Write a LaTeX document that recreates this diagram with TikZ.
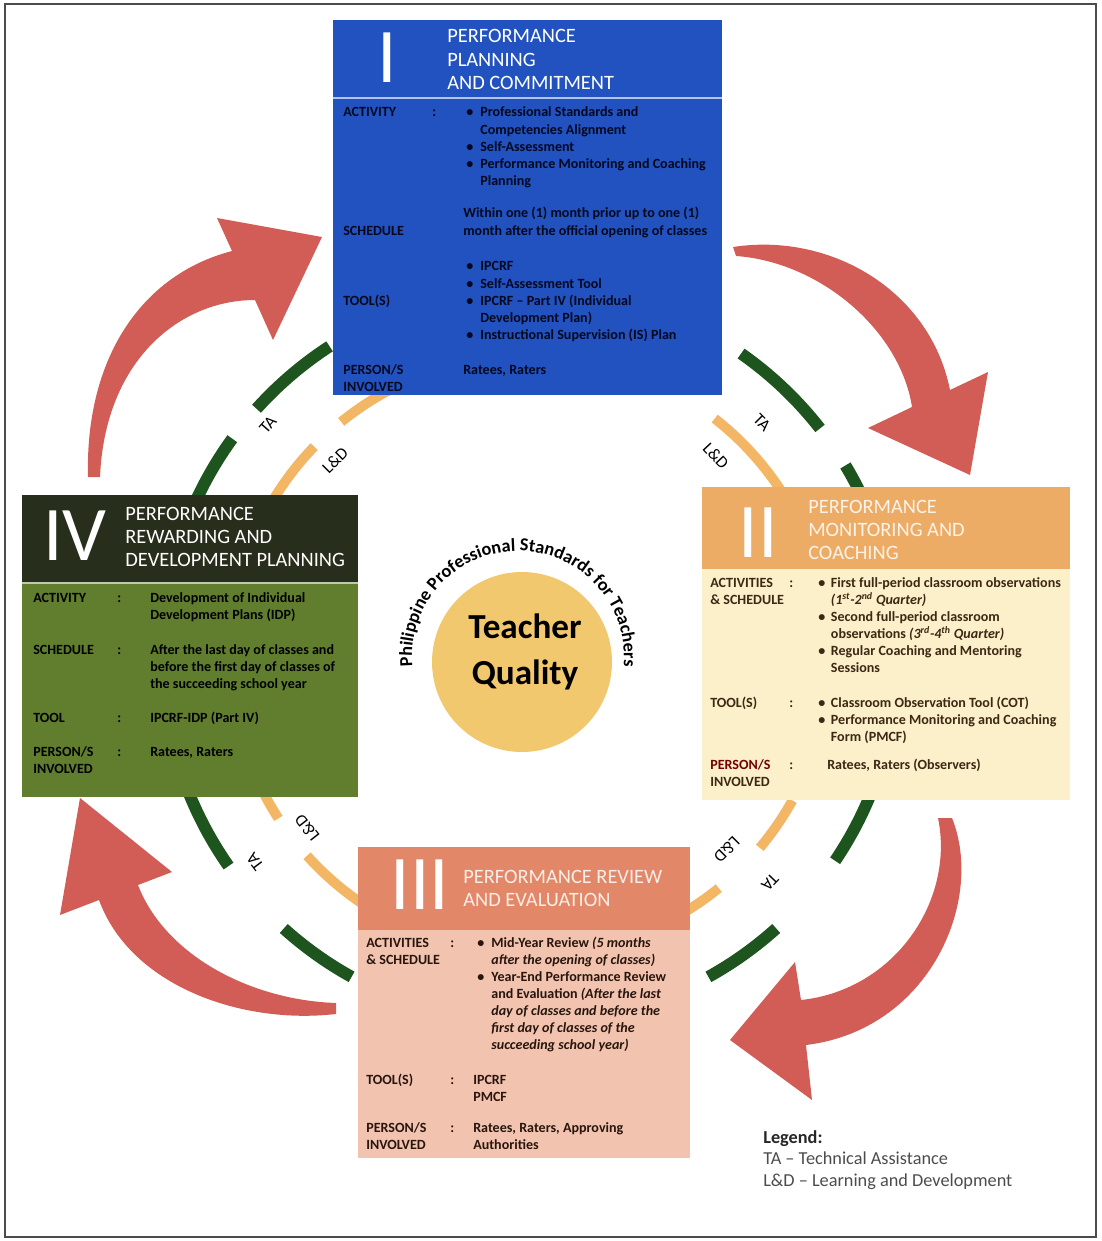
\documentclass[tikz,border=0pt]{standalone}
\usepackage{fontspec}
\setmainfont{Carlito}
\usetikzlibrary{decorations.text}

\definecolor{planblue}{RGB}{34,82,192}
\definecolor{planink}{RGB}{4,8,30}
\definecolor{monhead}{RGB}{236,172,102}
\definecolor{monbody}{RGB}{252,240,202}
\definecolor{monink}{RGB}{60,40,20}
\definecolor{revhead}{RGB}{226,136,104}
\definecolor{revbody}{RGB}{242,196,176}
\definecolor{revink}{RGB}{40,22,14}
\definecolor{rewhead}{RGB}{40,46,28}
\definecolor{rewbody}{RGB}{96,126,46}
\definecolor{arrowred}{RGB}{210,92,86}
\definecolor{tagreen}{RGB}{30,84,30}
\definecolor{ldorange}{RGB}{242,182,100}
\definecolor{coreyellow}{RGB}{242,200,110}

\tikzset{
  phasetitle/.style={anchor=base west, inner sep=0, text=white, font=\fontsize{14.5}{16.7}\selectfont},
  numeral/.style={anchor=base, inner sep=0, text=white, font=\fontsize{55}{55}\selectfont},
  fieldlbl/.style={anchor=base west, inner sep=0, font=\fontsize{10}{12.1}\selectfont\bfseries},
  ringlbl/.style={inner sep=0, font=\fontsize{12}{12}\selectfont},
  bigarrow/.style={fill=arrowred},
  taring/.style={draw=tagreen, line width=8.5pt},
  ldring/.style={draw=ldorange, line width=7pt}
}

\begin{document}
\begin{tikzpicture}[x=0.025cm, y=0.025cm]
  \useasboundingbox (0,0) rectangle (1101,-1241);
  \draw[black!70, line width=1pt] (5,-4) rectangle (1096,-1237);

  %%%%% rings %%%%%
  \foreach \a/\b in {123/138,144/166,55/38,31/14,194/215,228/241,346/326,312/299}
    \draw[taring] (530,-655) ++(\a:368) arc (\a:\b:368);
  \foreach \a/\b in {115/129,136/150,52/33,204/213,222/236,331/320,309/300}
    \draw[ldring] (530,-655) ++(\a:300) arc (\a:\b:300);

  %%%%% arrows %%%%%
  \fill[bigarrow] (88,-477) .. controls (85,-360) and (140,-275) .. (232,-251) -- (217,-218) -- (322,-237)
    -- (273,-340) -- (255,-300) .. controls (180,-300) and (105,-360) .. (100,-477) -- cycle;
  \fill[bigarrow] (733,-247) .. controls (830,-232) and (930,-290) .. (950,-390) -- (988,-372) -- (970,-475)
    -- (868,-428) -- (912,-407) .. controls (900,-330) and (820,-262) .. (736,-256) -- cycle;
  \fill[bigarrow] (952,-818) .. controls (985,-900) and (930,-1030) .. (806,-1045) -- (812,-1100) -- (730,-1040)
    -- (795,-962) -- (801,-1000) .. controls (895,-990) and (955,-900) .. (938,-818) -- cycle;
  \fill[bigarrow] (336,-1014) .. controls (240,-1025) and (130,-985) .. (99,-900) -- (60,-915) -- (80,-798)
    -- (172,-872) -- (138,-885) .. controls (165,-955) and (250,-1000) .. (336,-1003) -- cycle;

  %%%%% I %%%%%
  \fill[planblue] (333,-20) rectangle (722,-395);
  \draw[white!65!planblue, line width=1.5pt] (333,-98) -- (722,-98);
  \node[numeral] (n1) at (387,-83) {I};
  \node[phasetitle] (t1) at (447,-43) {\begin{tabular}[t]{@{}l@{}}PERFORMANCE\\PLANNING\\AND COMMITMENT\end{tabular}};
  \node[fieldlbl, text=planink] (p1act) at (343,-117) {ACTIVITY};
  \node[fieldlbl, text=planink] (p1actc) at (432,-117) {:};
  \node[fieldlbl, text=planink] (p1actx) at (466,-117) {\begin{tabular}[t]{@{}p{10pt}@{}l@{}}
    \textbullet & Professional Standards and\\ & Competencies Alignment\\
    \textbullet & Self-Assessment\\ \textbullet & Performance Monitoring and Coaching\\ & Planning\end{tabular}};
  \node[fieldlbl, text=planink] (p1sch) at (343,-236) {SCHEDULE};
  \node[fieldlbl, text=planink] (p1schx) at (463,-218) {\begin{tabular}[t]{@{}l@{}}
    Within one (1) month prior up to one (1)\\month after the official opening of classes\end{tabular}};
  \node[fieldlbl, text=planink] (p1tool) at (343,-305) {TOOL(S)};
  \node[fieldlbl, text=planink] (p1toolx) at (466,-271) {\begin{tabular}[t]{@{}p{10pt}@{}l@{}}
    \textbullet & IPCRF\\ \textbullet & Self-Assessment Tool\\ \textbullet & IPCRF -- Part IV (Individual\\
    & Development Plan)\\ \textbullet & Instructional Supervision (IS) Plan\end{tabular}};
  \node[fieldlbl, text=planink] (p1who) at (343,-374) {\begin{tabular}[t]{@{}l@{}}PERSON/S\\INVOLVED\end{tabular}};
  \node[fieldlbl, text=planink] (p1whox) at (463,-374) {Ratees, Raters};

  %%%%% II %%%%%
  \fill[monhead] (702,-487) rectangle (1070,-569);
  \fill[monbody] (702,-569) rectangle (1070,-800);
  \node[numeral] (n2) at (758,-557) {II};
  \node[phasetitle, text=white!85!monhead] (t2) at (808,-513) {\begin{tabular}[t]{@{}l@{}}PERFORMANCE\\MONITORING AND\\COACHING\end{tabular}};
  \node[fieldlbl, text=monink] (p2act) at (710,-587) {\begin{tabular}[t]{@{}l@{}}ACTIVITIES\\\& SCHEDULE\end{tabular}};
  \node[fieldlbl, text=monink] (p2actc) at (789,-587) {:};
  \node[fieldlbl, text=monink] (p2actx) at (818,-587) {\begin{tabular}[t]{@{}p{9pt}@{}l@{}}
    \textbullet & First full-period classroom observations\\ & \textit{(1\textsuperscript{st}-2\textsuperscript{nd} Quarter)}\\
    \textbullet & Second full-period classroom\\ & observations \textit{(3\textsuperscript{rd}-4\textsuperscript{th} Quarter)}\\
    \textbullet & Regular Coaching and Mentoring\\ & Sessions\end{tabular}};
  \node[fieldlbl, text=monink] (p2tool) at (710,-707) {TOOL(S)};
  \node[fieldlbl, text=monink] (p2toolc) at (789,-707) {:};
  \node[fieldlbl, text=monink] (p2toolx) at (818,-707) {\begin{tabular}[t]{@{}p{9pt}@{}l@{}}
    \textbullet & Classroom Observation Tool (COT)\\ \textbullet & Performance Monitoring and Coaching\\
    & Form (PMCF)\end{tabular}};
  \node[fieldlbl, text=monink] (p2who) at (710,-769) {\begin{tabular}[t]{@{}l@{}}\textcolor{red!45!black}{PERSON/S}\\INVOLVED\end{tabular}};
  \node[fieldlbl, text=monink] (p2whoc) at (789,-769) {:};
  \node[fieldlbl, text=monink] (p2whox) at (827,-769) {Ratees, Raters (Observers)};

  %%%%% III %%%%%
  \fill[revhead] (358,-847) rectangle (690,-930);
  \fill[revbody] (358,-930) rectangle (690,-1158);
  \node[numeral] (n3) at (420,-909) {III};
  \node[phasetitle, text=white!85!revhead] (t3) at (463,-883) {\begin{tabular}[t]{@{}l@{}}PERFORMANCE REVIEW\\AND EVALUATION\end{tabular}};
  \node[fieldlbl, text=revink] (p3act) at (366,-947) {\begin{tabular}[t]{@{}l@{}}ACTIVITIES\\\& SCHEDULE\end{tabular}};
  \node[fieldlbl, text=revink] (p3actc) at (450,-947) {:};
  \node[fieldlbl, text=revink] (p3actx) at (477,-947) {\begin{tabular}[t]{@{}p{10pt}@{}l@{}}
    \textbullet & Mid-Year Review \textit{(5 months}\\ & \textit{after the opening of classes)}\\
    \textbullet & Year-End Performance Review\\ & and Evaluation \textit{(After the last}\\
    & \textit{day of classes and before the}\\ & \textit{first day of classes of the}\\
    & \textit{succeeding school year)}\end{tabular}};
  \node[fieldlbl, text=revink] (p3tool) at (366,-1084) {TOOL(S)};
  \node[fieldlbl, text=revink] (p3toolc) at (450,-1084) {:};
  \node[fieldlbl, text=revink] (p3toolx) at (473,-1084) {\begin{tabular}[t]{@{}l@{}}IPCRF\\PMCF\end{tabular}};
  \node[fieldlbl, text=revink] (p3who) at (366,-1132) {\begin{tabular}[t]{@{}l@{}}PERSON/S\\INVOLVED\end{tabular}};
  \node[fieldlbl, text=revink] (p3whoc) at (450,-1132) {:};
  \node[fieldlbl, text=revink] (p3whox) at (473,-1132) {\begin{tabular}[t]{@{}l@{}}Ratees, Raters, Approving\\Authorities\end{tabular}};

  %%%%% IV %%%%%
  \fill[rewhead] (22,-495) rectangle (358,-583);
  \fill[rewbody] (22,-583) rectangle (358,-797);
  \draw[white!60!rewbody, line width=1pt] (22,-583) -- (358,-583);
  \node[numeral] (n4) at (75,-560) {IV};
  \node[phasetitle] (t4) at (125,-520) {\begin{tabular}[t]{@{}l@{}}PERFORMANCE\\REWARDING AND\\DEVELOPMENT PLANNING\end{tabular}};
  \node[fieldlbl] (p4act) at (33,-602) {ACTIVITY};
  \node[fieldlbl] (p4actc) at (117,-602) {:};
  \node[fieldlbl] (p4actx) at (150,-602) {\begin{tabular}[t]{@{}l@{}}Development of Individual\\Development Plans (IDP)\end{tabular}};
  \node[fieldlbl] (p4sch) at (33,-654) {SCHEDULE};
  \node[fieldlbl] (p4schc) at (117,-654) {:};
  \node[fieldlbl] (p4schx) at (150,-654) {\begin{tabular}[t]{@{}l@{}}After the last day of classes and\\before the first day of classes of\\the succeeding school year\end{tabular}};
  \node[fieldlbl] (p4tool) at (33,-722) {TOOL};
  \node[fieldlbl] (p4toolc) at (117,-722) {:};
  \node[fieldlbl] (p4toolx) at (150,-722) {IPCRF-IDP (Part IV)};
  \node[fieldlbl] (p4who) at (33,-756) {\begin{tabular}[t]{@{}l@{}}PERSON/S\\INVOLVED\end{tabular}};
  \node[fieldlbl] (p4whoc) at (117,-756) {:};
  \node[fieldlbl] (p4whox) at (150,-756) {Ratees, Raters};

  %%%%% centre %%%%%
  \fill[coreyellow] (522,-662) circle (90);
  \node[anchor=base, inner sep=0, font=\fontsize{25}{25}\selectfont\bfseries] (tq1) at (525,-638) {Teacher};
  \node[anchor=base, inner sep=0, font=\fontsize{25}{25}\selectfont\bfseries] (tq2) at (525,-684) {Quality};
  \path[decorate, decoration={text along path, text align=center,
    text={|\fontsize{13}{13}\selectfont\bfseries|Philippine Professional Standards for Teachers}}]
    (518,-657) ++(194:106) arc (194:-14:106);

  %%%%% ring labels %%%%%
  \node[ringlbl, rotate=49] (ta1) at (268,-425) {TA};
  \node[ringlbl, rotate=45] (ld1) at (335,-460) {L\&D};
  \node[ringlbl, rotate=-45] (ta2) at (762,-423) {TA};
  \node[ringlbl, rotate=-47] (ld2) at (716,-456) {L\&D};
  \node[ringlbl, rotate=127] (ta4) at (255,-862) {TA};
  \node[ringlbl, rotate=128] (ld4) at (307,-828) {L\&D};
  \node[ringlbl, rotate=-134] (ta3) at (770,-882) {TA};
  \node[ringlbl, rotate=-135] (ld3) at (727,-850) {L\&D};

  %%%%% legend %%%%%
  \node[anchor=base west, inner sep=0, text=black!70, font=\fontsize{13}{15.6}\selectfont] (legend) at (763,-1143)
    {\begin{tabular}[t]{@{}l@{}}\textcolor{black!85}{\textbf{Legend:}}\\TA -- Technical Assistance\\L\&D -- Learning and Development\end{tabular}};
\end{tikzpicture}
\end{document}
